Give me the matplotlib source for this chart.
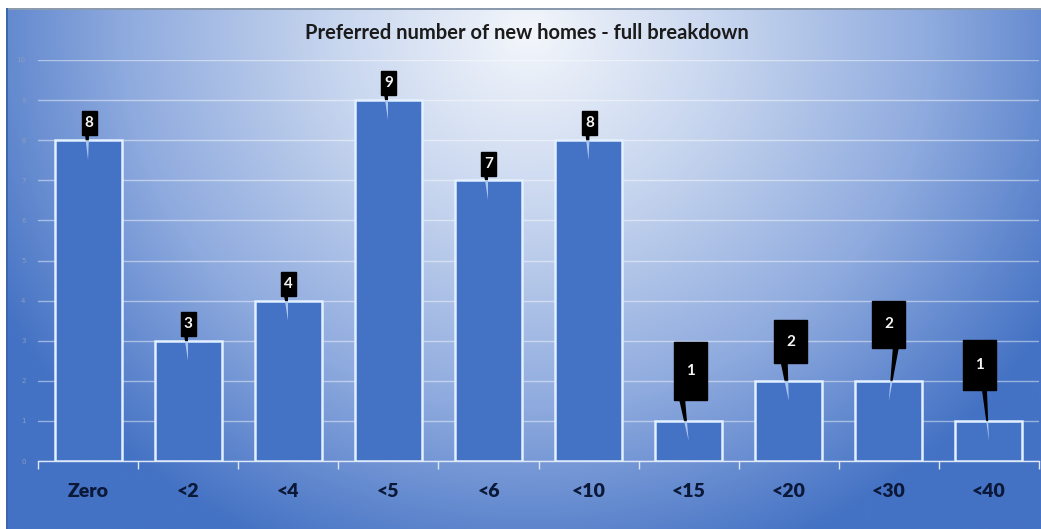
"""Preferred number of new homes - full breakdown (bar chart with callouts)."""
import numpy as np
import matplotlib
matplotlib.use("Agg")
import matplotlib.pyplot as plt
from matplotlib.colors import LinearSegmentedColormap
from matplotlib.patches import Polygon, Rectangle

categories = ["Zero", "<2", "<4", "<5", "<6", "<10", "<15", "<20", "<30", "<40"]
counts = [8, 3, 4, 9, 7, 8, 1, 2, 2, 1]
y_ticks = list(range(0, 11))
title = "Preferred number of new homes - full breakdown"

# callout styling (in axis units, relative to each bar)
callout_w = [0.15, 0.15, 0.15, 0.15, 0.15, 0.15, 0.33, 0.33, 0.33, 0.33]
callout_h = [0.60, 0.60, 0.60, 0.60, 0.60, 0.60, 1.45, 1.08, 1.17, 1.25]
callout_lift = [0.13, 0.12, 0.11, 0.13, 0.10, 0.13, 0.52, 0.44, 0.82, 0.77]
callout_dx = [0.01, 0.0, 0.0, 0.0, 0.0, 0.01, 0.015, 0.02, 0.0, -0.095]
base_dx = [(-0.04, 0.0), (-0.04, 0.0), (-0.04, 0.0), (-0.04, 0.0), (-0.04, 0.0),
           (-0.04, 0.0), (-0.11, -0.05), (-0.10, -0.03), (0.04, 0.10), (0.025, 0.075)]
tip_drop = 0.5

W, H, DPI = 1041, 529, 100
fig = plt.figure(figsize=(W / DPI, H / DPI), dpi=DPI)
fig.patch.set_facecolor("white")

# radial gradient background
bg = fig.add_axes([0, 0, 1, 1])
bg.set_xlim(0, W); bg.set_ylim(H, 0); bg.axis("off")
yy, xx = np.mgrid[0:H, 0:W]
r = np.sqrt(((xx - 525) / 600.0) ** 2 + ((yy - 25) / 560.0) ** 2)
cmap = LinearSegmentedColormap.from_list("bg", ["#f3f6fb", "#c5d4ee", "#8eaade", "#4472c4"])
bg.imshow(np.clip(r / 1.02, 0, 1), cmap=cmap, vmin=0, vmax=1,
          extent=(6, W, H, 8), aspect="auto", interpolation="bilinear")
bg.add_patch(Rectangle((6, 8), W - 6, 1.5, color="#8c9aae", lw=0))
bg.add_patch(Rectangle((6, 8), 2, H - 8, color="#3d66b0", lw=0))

ax = fig.add_axes([38 / W, (H - 461) / H, 1001 / W, 401 / H])
ax.patch.set_alpha(0)
x = np.arange(len(categories))
ax.bar(x, counts, width=0.67, color="#4472c4", edgecolor="#e2f0ff", linewidth=1.8, zorder=3)

ax.set_xlim(-0.5, len(categories) - 0.5)
ax.set_ylim(0, 10)
ax.set_yticks(y_ticks)
ax.set_yticklabels([str(t) for t in y_ticks], fontsize=5, color="#8a9cc0")
ax.yaxis.grid(True, color="white", alpha=0.45, lw=1, zorder=0)
ax.tick_params(axis="y", length=0, pad=9)
ax.set_xticks(x)
ax.set_xticklabels(categories, fontsize=14, fontweight="heavy", color="#0b1838", family="Lato")
ax.set_xticks(np.arange(-0.5, len(categories)), minor=True)
ax.tick_params(axis="x", which="major", length=0, pad=16)
ax.tick_params(axis="x", which="minor", length=6, width=1, color="#dfe8f7")
for s in ["top", "right", "left"]:
    ax.spines[s].set_visible(False)
ax.spines["bottom"].set_color("#dfe8f7")
ax.spines["bottom"].set_linewidth(1)

# callouts
for i, v in enumerate(counts):
    cx = x[i] + callout_dx[i]
    w, h, yb = callout_w[i], callout_h[i], v + callout_lift[i]
    ax.add_patch(Rectangle((cx - w / 2, yb), w, h, color="black", zorder=6))
    bl, br = cx + base_dx[i][0], cx + base_dx[i][1]
    tx, ty = x[i], v - tip_drop
    f = (yb - v) / (yb - ty)
    xl, xr = bl + (tx - bl) * f, br + (tx - br) * f
    ax.add_patch(Polygon([(bl, yb + 0.01), (br, yb + 0.01), (xr, v), (xl, v)],
                         closed=True, color="black", lw=0, zorder=6))
    ax.add_patch(Polygon([(xl, v), (xr, v), (tx, ty)], closed=True,
                         color="#a9c6f0", lw=0, zorder=5))
    ax.text(cx, yb + h / 2, str(v), ha="center", va="center", color="#f4f4f4",
            fontsize=11, fontweight="bold", family="Lato", zorder=7)

fig.text(527 / W, 1 - 33 / H, title, ha="center", va="center", fontsize=14.5,
         fontweight="bold", color="#1b1b1b", family="Lato")

fig.savefig("out.png", dpi=DPI)
